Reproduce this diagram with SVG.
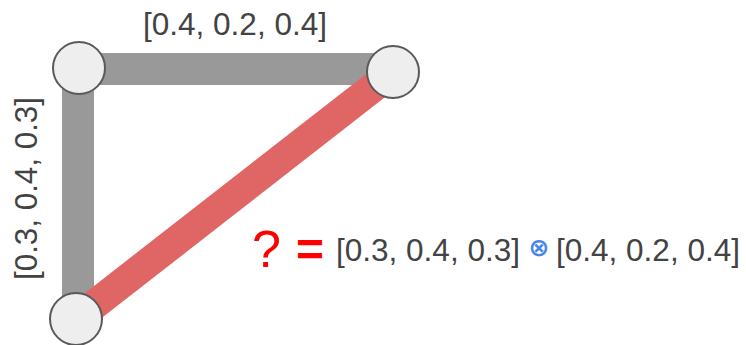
<svg xmlns="http://www.w3.org/2000/svg" width="746" height="345" viewBox="0 0 746 345">
<style>
.lbl{font-family:"Liberation Sans",Arial,sans-serif;font-size:31.5px;fill:#434343}
.node{fill:#eeeeee;stroke:#595959;stroke-width:2}
.edge{stroke:#999999;stroke-width:32;fill:none}
.red{font-family:"Liberation Sans",Arial,sans-serif;fill:#ff0000}
</style>
<rect width="746" height="345" fill="#ffffff"/>
<g id="connectors">
<line class="edge" x1="79" y1="69" x2="393" y2="69"/>
<line class="edge" x1="78" y1="68" x2="78" y2="319"/>
<line x1="393" y1="72" x2="76" y2="319" stroke="#e06666" stroke-width="30"/>
</g>
<g id="node-a"><circle class="node" cx="79" cy="68" r="26"/></g>
<g id="node-b"><circle class="node" cx="393" cy="72" r="26"/></g>
<g id="node-c"><circle class="node" cx="76" cy="319" r="26"/></g>
<g id="labels">
<text class="lbl" x="235" y="35" text-anchor="middle" textLength="184" lengthAdjust="spacingAndGlyphs">[0.4, 0.2, 0.4]</text>
<text class="lbl" transform="translate(37,188.5) rotate(-90)" text-anchor="middle" textLength="183" lengthAdjust="spacingAndGlyphs">[0.3, 0.4, 0.3]</text>
<text class="red" x="252" y="267" font-size="52">?</text>
<text class="red" x="296" y="266" font-size="48" font-weight="bold">=</text>
<text class="lbl" x="336" y="261" textLength="184" lengthAdjust="spacingAndGlyphs">[0.3, 0.4, 0.3]</text>
<text x="539" y="256" font-family="'DejaVu Sans',sans-serif" font-size="25" font-weight="bold" fill="#4a86e8" text-anchor="middle">⊗</text>
<text class="lbl" x="556" y="261" textLength="184" lengthAdjust="spacingAndGlyphs">[0.4, 0.2, 0.4]</text>
</g>
</svg>
